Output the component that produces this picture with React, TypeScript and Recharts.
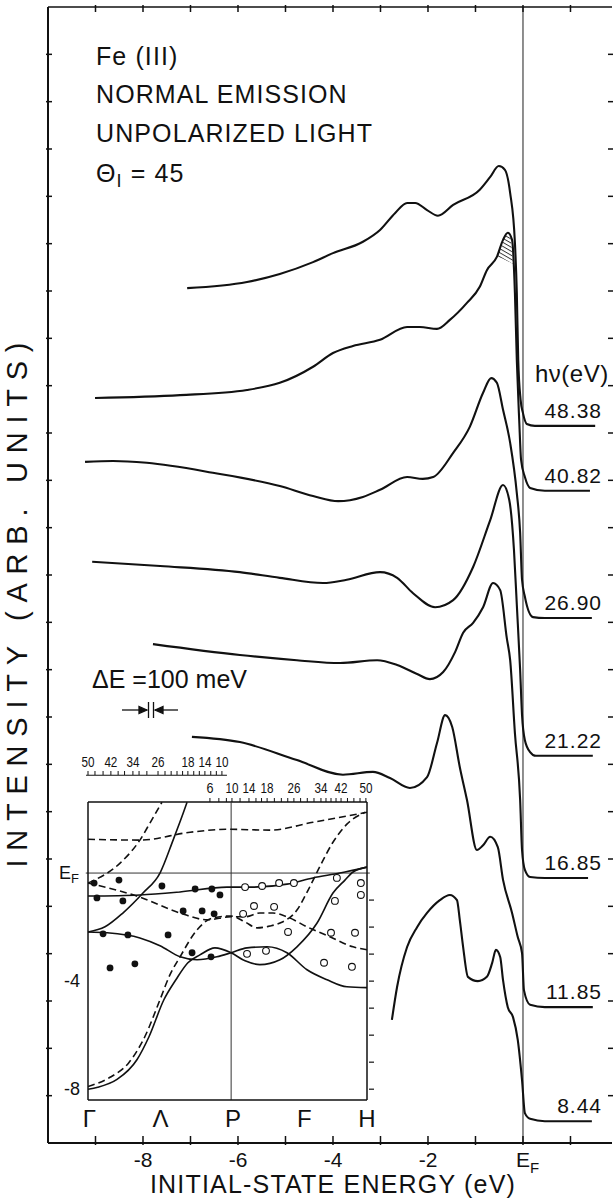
import React from "react";
import { ComposedChart, Line, Area, Scatter, XAxis, YAxis, ReferenceLine } from "recharts";

const W = 613;
const H = 1198;
const FONT = "'Liberation Sans', Arial, sans-serif";
const INK = "#111";

// photon energies, top curve to bottom curve
const photon = ["48.38", "40.82", "26.90", "21.22", "16.85", "11.85", "8.44"];

// spectra: [initial-state energy (eV), intensity incl. offset (in y-tick units)]
const s4838 = [[-7.07, 18.06], [-5.81, 18.19], [-5.12, 18.36], [-4.42, 18.61], [-4.0, 18.8], [-3.37, 19.04], [-3.01, 19.29], [-2.69, 19.65], [-2.44, 19.86], [-2.27, 19.86], [-2.02, 19.71], [-1.79, 19.59], [-1.47, 19.82], [-0.91, 20.14], [-0.69, 20.41], [-0.51, 20.64], [-0.38, 20.56], [-0.27, 20.07], [-0.17, 19.02], [-0.13, 17.96], [-0.1, 16.54], [-0.05, 15.7], [0.0, 15.42], [0.08, 15.19], [0.25, 15.15], [1.52, 15.15]];
const s4082 = [[-9.01, 15.74], [-7.22, 15.8], [-5.81, 15.91], [-5.12, 16.06], [-4.42, 16.4], [-4.0, 16.69], [-3.58, 16.84], [-3.01, 16.97], [-2.44, 17.24], [-2.17, 17.24], [-1.81, 17.2], [-1.54, 17.39], [-1.18, 17.75], [-0.91, 18.09], [-0.76, 18.44], [-0.55, 18.72], [-0.42, 19.08], [-0.32, 19.23], [-0.23, 19.08], [-0.17, 17.96], [-0.13, 16.54], [-0.08, 15.28], [-0.04, 14.43], [0.04, 14.07], [0.15, 13.84], [0.46, 13.78], [1.41, 13.78]];
const s2690 = [[-9.22, 14.39], [-8.63, 14.41], [-7.92, 14.37], [-6.53, 14.16], [-5.12, 13.88], [-4.42, 13.67], [-3.89, 13.56], [-3.37, 13.65], [-3.01, 13.8], [-2.44, 14.07], [-2.11, 14.03], [-1.89, 14.07], [-1.47, 14.58], [-1.12, 15.13], [-0.84, 15.85], [-0.67, 16.16], [-0.55, 16.06], [-0.42, 15.49], [-0.27, 14.79], [-0.13, 13.73], [-0.06, 12.89], [-0.02, 11.9], [0.04, 11.54], [0.21, 11.11], [0.46, 11.09], [1.45, 11.09]];
const s2122 = [[-9.07, 12.28], [-7.64, 12.19], [-5.96, 12.06], [-5.12, 11.94], [-4.21, 11.83], [-3.71, 11.9], [-3.01, 12.06], [-2.65, 11.94], [-2.32, 11.62], [-1.85, 11.32], [-1.47, 11.47], [-1.05, 12.17], [-0.69, 13.16], [-0.42, 13.9], [-0.29, 13.59], [-0.19, 12.53], [-0.13, 11.37], [-0.06, 9.99], [-0.02, 9.04], [0.04, 8.51], [0.15, 8.26], [0.27, 8.18], [1.47, 8.18]];
const s1685 = [[-7.79, 10.54], [-5.96, 10.31], [-4.76, 10.2], [-3.85, 10.14], [-3.07, 10.2], [-2.65, 10.1], [-2.23, 9.91], [-1.96, 9.8], [-1.68, 9.95], [-1.43, 10.37], [-1.26, 10.78], [-1.05, 10.99], [-0.84, 11.32], [-0.63, 11.83], [-0.48, 11.68], [-0.34, 10.66], [-0.27, 10.2], [-0.17, 8.66], [-0.06, 7.25], [-0.02, 6.19], [0.04, 5.77], [0.15, 5.62], [0.46, 5.6], [1.37, 5.6]];
const s1185 = [[-6.97, 8.58], [-5.96, 8.47], [-4.76, 8.09], [-3.79, 7.78], [-3.16, 7.84], [-2.8, 7.71], [-2.38, 7.5], [-2.02, 7.73], [-1.81, 8.45], [-1.64, 9.04], [-1.49, 8.79], [-1.33, 7.94], [-1.18, 7.25], [-0.97, 6.19], [-0.84, 6.29], [-0.69, 6.47], [-0.53, 6.25], [-0.42, 5.56], [-0.23, 4.86], [-0.11, 4.35], [-0.02, 4.01], [0.02, 3.23], [0.15, 2.92], [0.46, 2.87], [1.47, 2.87]];
const s844 = [[-2.76, 2.6], [-2.65, 3.3], [-2.44, 4.14], [-2.23, 4.56], [-2.02, 4.86], [-1.75, 5.13], [-1.54, 5.24], [-1.39, 5.13], [-1.33, 4.71], [-1.26, 4.14], [-1.16, 3.51], [-0.95, 3.42], [-0.76, 3.51], [-0.65, 3.8], [-0.57, 4.08], [-0.48, 3.93], [-0.42, 3.44], [-0.32, 2.87], [-0.21, 2.66], [-0.11, 2.18], [-0.02, 1.33], [0.04, 0.63], [0.15, 0.51], [0.46, 0.46], [1.45, 0.46]];
const spectra = [s4838, s4082, s2690, s2122, s1685, s1185, s844];

// hatched shoulder on the 40.82 eV curve
const hatchE = [-0.55, -0.45, -0.38, -0.32, -0.26, -0.21];
const hatchLo = [18.72, 18.69, 18.66, 18.63, 18.6, 18.57];
const hatchHi = [18.72, 18.98, 19.16, 19.23, 19.12, 18.6];

// main axes
const xTicks = [-9, -8, -7, -6, -5, -4, -3, -2, -1, 0, 1];
const xLabeled = [-8, -6, -4, -2];
const yTicks = [1, 2, 3, 4, 5, 6, 7, 8, 9, 10, 11, 12, 13, 14, 15, 16, 17, 18, 19, 20, 21, 22, 23];

// inset: band structure along Γ-Λ-P-F-H (k: 0..100), energy in eV
const kTicks = [0.5, 26, 52, 77.5, 100];
const kNames = ["Γ", "Λ", "P", "F", "H"];
const bandL1 = [[0, -0.85], [18.6, -0.81], [33, -0.7], [49.8, -0.52], [59.1, -0.52], [71.3, -0.41], [80.6, -0.18], [90.3, 0], [100, 0.22]];
const bandL2 = [[0, -2.18], [6.1, -1.99], [12.5, -1.48], [19.7, -0.74], [25.8, 0], [30.5, 1.22], [34.1, 2.21], [35.5, 2.62]];
const bandA = [[0, -2.18], [6.8, -2.21], [18.6, -2.4], [25.8, -2.69], [33, -3.1], [39.1, -3.21], [46.2, -3.1], [51.3, -2.95], [57, -2.77], [64.2, -2.73], [71.3, -2.95], [78.5, -3.58], [85.7, -3.95], [92.8, -4.21], [100, -4.24]];
const bandB = [[0, -8.0], [3.5, -7.93], [10.4, -7.64], [17.6, -6.9], [21.9, -6.05], [27.2, -4.69], [31.5, -3.95], [35.8, -3.32], [40.1, -3.03], [45.5, -2.77], [51.3, -2.95], [56.3, -3.25], [61.6, -3.39], [68.8, -3.21], [74.9, -2.73], [82.1, -1.85], [87.8, -0.74], [92.1, -0.26], [95, 0.04], [100, 0.22]];
const dashTop = [[0, 1.25], [18.6, 1.22], [36.6, 1.51], [49.8, 1.62], [65.2, 1.59], [80.6, 1.88], [100, 2.25]];
const dashSteep = [[0, -0.37], [11.5, 0.37], [18.6, 1.22], [22.2, 1.85], [26.5, 2.62]];
const dashMid = [[0, -0.37], [18.6, -0.89], [33, -1.48], [42.7, -1.73], [51.3, -1.62], [56.3, -1.62], [61.6, -1.48], [66.3, -1.48], [71.3, -1.62], [78.5, -1.99], [86.7, -2.36], [95, -2.73], [100, -2.84]];
const dashLow = [[0, -7.9], [7.9, -7.56], [14.7, -7.01], [20.4, -6.05], [25.8, -4.69], [29.4, -3.76], [33, -3.1], [39.1, -2.1], [44.8, -1.66], [51.3, -1.59], [56.3, -1.81], [60.6, -2.03], [65.2, -1.96], [68.8, -1.85], [74.9, -1.37], [78.9, -0.63], [83.2, 0.26], [87.8, 1.14], [92.8, 1.81], [99.3, 2.25]];
const solidBands = [bandL1, bandL2, bandA, bandB];
const dashedBands = [dashTop, dashSteep, dashMid, dashLow];
const filledDots = [[2.2, -0.37], [11.1, -0.26], [3.2, -0.92], [12.5, -1.03], [26.5, -0.48], [38.4, -0.59], [44.4, -0.59], [47.3, -0.81], [34.1, -1.4], [40.9, -1.4], [45.2, -1.51], [5.4, -2.25], [14.3, -2.29], [28.7, -2.29], [37.3, -2.95], [44.1, -3.1], [7.9, -3.51], [16.8, -3.36]];
const openDots = [[56.3, -0.52], [62.4, -0.48], [68.5, -0.37], [73.8, -0.37], [89.2, -0.18], [97.8, -0.37], [97.8, -0.81], [88.5, -1.03], [55.6, -1.51], [59.5, -1.22], [66.7, -1.25], [71.7, -2.18], [87.1, -2.21], [95.7, -2.21], [57, -2.99], [63.8, -2.88], [84.6, -3.32], [94.6, -3.47]];

// photon-energy scales above the inset
const s1Ticks = [0, 2.5, 5.4, 8.2, 10.8, 13.1, 16.1, 18.3, 21.1, 25.1, 27.6, 29.8, 31.9, 33.9, 35.8, 37.9, 39.9, 41.9, 44.0, 46.0, 48.0];
const s1Text = ["50", "", "", "42", "", "", "34", "", "", "26", "", "", "", "", "18", "", "", "14", "", "", "10"];
const s2Ticks = [43.7, 46.9, 49.6, 51.6, 54.5, 57.7, 60.2, 62.2, 64.2, 66.8, 69.3, 71.6, 73.8, 76.2, 78.6, 81.0, 83.5, 85.3, 87.1, 88.9, 90.7, 93.0, 95.3, 97.5, 99.6];
const s2Text = ["6", "", "", "10", "", "14", "", "", "18", "", "", "", "26", "", "", "", "34", "", "", "", "42", "", "", "", "50"];

const toXY = (s: number[][]) => s.map(([x, y]) => ({ x, y }));
const toKE = (s: number[][]) => s.map(([k, e]) => ({ k, e }));

const BottomTick = (p: any) => {
  const v = p.payload.value;
  return (
    <g>
      <line x1={p.x} x2={p.x} y1={p.y} y2={p.y - 9} stroke={INK} strokeWidth={1.5} />
      {v === 0 ? (
        <text x={p.x - 7} y={p.y + 22} fontSize={21} fill={INK} fontFamily={FONT}>
          E<tspan fontSize={15} dy={6}>F</tspan>
        </text>
      ) : xLabeled.includes(v) ? (
        <text x={p.x} y={p.y + 22} textAnchor="middle" fontSize={21} fill={INK} fontFamily={FONT}>{v}</text>
      ) : null}
    </g>
  );
};
const TopTick = (p: any) => <line x1={p.x} x2={p.x} y1={p.y} y2={p.y + 7} stroke={INK} strokeWidth={1.5} />;
const LeftTick = (p: any) => <line x1={p.x} x2={p.x + 6} y1={p.y} y2={p.y} stroke={INK} strokeWidth={1.5} />;
const RightTick = (p: any) => <line x1={p.x - 6} x2={p.x + 1} y1={p.y} y2={p.y} stroke={INK} strokeWidth={1.5} />;

const TailLabel = (p: any) => (
  <text x={602} y={p.cy - 8} textAnchor="end" fontSize={21} letterSpacing={1} fill={INK} fontFamily={FONT}>
    {p.payload?.lab ?? p.lab}
  </text>
);

const KTick = (p: any) => (
  <text x={p.x} y={p.y + 25} textAnchor="middle" fontSize={24} fill={INK} fontFamily={FONT}>
    {kNames[kTicks.indexOf(p.payload.value)]}
  </text>
);
const ETick = (p: any) =>
  p.payload.value === 0 ? (
    <text x={p.x - 27} y={p.y + 6} fontSize={18} fill={INK} fontFamily={FONT}>
      E<tspan fontSize={13} dy={4}>F</tspan>
    </text>
  ) : (
    <text x={p.x - 6} y={p.y + 6} textAnchor="end" fontSize={18} fill={INK} fontFamily={FONT}>{p.payload.value}</text>
  );
const ERTick = (p: any) => <line x1={p.x} x2={p.x + 5} y1={p.y} y2={p.y} stroke={INK} strokeWidth={1.2} />;

// narrow numerals for the photon-energy scales
const ScaleText = ({ x, y, t }: { x: number; y: number; t: string }) => (
  <text x={x} y={y} textAnchor="middle" fontSize={15} fill={INK} fontFamily={FONT}
    textLength={t.length > 1 ? 13 : 7} lengthAdjust="spacingAndGlyphs">{t}</text>
);
const S1Tick = (p: any) => {
  const t = s1Text[s1Ticks.indexOf(p.payload.value)];
  return (
    <g>
      <line x1={p.x} x2={p.x} y1={775} y2={771} stroke={INK} strokeWidth={1} />
      {t ? <ScaleText x={p.x} y={767} t={t} /> : null}
    </g>
  );
};
const S2Tick = (p: any) => {
  const t = s2Text[s2Ticks.indexOf(p.payload.value)];
  return (
    <g>
      <line x1={p.x} x2={p.x} y1={802} y2={798} stroke={INK} strokeWidth={1} />
      {t ? <ScaleText x={p.x} y={793} t={t} /> : null}
    </g>
  );
};

export default function App() {
  const hatchData = hatchE.map((x, i) => ({ x, r: [hatchLo[i], hatchHi[i]] }));
  const tails = spectra.map((s, i) => ({ x: s[s.length - 1][0], y: s[s.length - 1][1], lab: photon[i] }));
  const text = { fontFamily: FONT, fill: INK } as const;

  return (
    <div style={{ position: "absolute", left: 0, top: 0, width: W, height: H, overflow: "hidden", background: "#fff" }}>
      <svg width={0} height={0} style={{ position: "absolute" }}>
        <defs>
          <pattern id="hatch" width={3.5} height={3.5} patternUnits="userSpaceOnUse" patternTransform="rotate(30)">
            <line x1={0} y1={0.5} x2={3.5} y2={0.5} stroke={INK} strokeWidth={0.8} />
          </pattern>
        </defs>
      </svg>

      <div style={{ position: "absolute", left: 0, top: 0 }}>
        <ComposedChart width={W} height={H} margin={{ top: 6, right: 0, bottom: 54, left: 47 }}>
          <XAxis xAxisId="b" dataKey="x" type="number" domain={[-10, 1.874]} allowDataOverflow ticks={xTicks} interval={0}
            height={1} tickSize={0} tickLine={false} axisLine={{ stroke: INK, strokeWidth: 2 }} tick={BottomTick} />
          <XAxis xAxisId="t" orientation="top" dataKey="x" type="number" domain={[-10, 1.874]} allowDataOverflow ticks={xTicks} interval={0}
            height={1} tickSize={0} tickLine={false} axisLine={{ stroke: INK, strokeWidth: 1.5 }} tick={TopTick} />
          <YAxis yAxisId="l" type="number" domain={[0, 24]} allowDataOverflow ticks={yTicks} interval={0}
            width={1} tickSize={0} tickLine={false} axisLine={{ stroke: INK, strokeWidth: 2 }} tick={LeftTick} />
          <YAxis yAxisId="r" orientation="right" type="number" domain={[0, 24]} allowDataOverflow ticks={yTicks} interval={0}
            width={1} tickSize={0} tickLine={false} axisLine={false} tick={RightTick} />
          <ReferenceLine xAxisId="b" yAxisId="l" x={0} stroke="#333" strokeWidth={1.1} />
          <Area xAxisId="b" yAxisId="l" data={hatchData} dataKey="r" type="linear" stroke="none" fill="url(#hatch)" fillOpacity={1}
            isAnimationActive={false} activeDot={false} />
          {spectra.map((s, i) => (
            <Line key={photon[i]} xAxisId="b" yAxisId="l" data={toXY(s)} dataKey="y" type="monotone" stroke={INK}
              strokeWidth={2.1} dot={false} activeDot={false} isAnimationActive={false} />
          ))}
          <Scatter xAxisId="b" yAxisId="l" data={tails} dataKey="y" shape={TailLabel} isAnimationActive={false} />
        </ComposedChart>
      </div>

      <div style={{ position: "absolute", left: 0, top: 0 }}>
        <ComposedChart width={W} height={H} margin={{ top: 800, right: 245, bottom: 97, left: 87 }}>
          <XAxis xAxisId="k" dataKey="k" type="number" domain={[0, 100]} allowDataOverflow ticks={kTicks} interval={0}
            height={1} tickSize={0} tickLine={false} axisLine={{ stroke: INK, strokeWidth: 1.5 }} tick={KTick} />
          <XAxis xAxisId="s2" orientation="top" dataKey="k" type="number" domain={[0, 100]} allowDataOverflow ticks={s2Ticks} interval={0}
            height={1} tickSize={0} tickLine={false} axisLine={false} tick={S2Tick} />
          <XAxis xAxisId="s1" orientation="top" dataKey="k" type="number" domain={[0, 100]} allowDataOverflow ticks={s1Ticks} interval={0}
            height={1} tickSize={0} tickLine={false} axisLine={false} tick={S1Tick} />
          <YAxis yAxisId="e" dataKey="e" type="number" domain={[-8.4, 2.63]} allowDataOverflow ticks={[0, -4, -8]} interval={0}
            width={1} tickSize={0} tickLine={false} axisLine={{ stroke: INK, strokeWidth: 1.5 }} tick={ETick} />
          <YAxis yAxisId="er" orientation="right" type="number" domain={[-8.4, 2.63]} allowDataOverflow ticks={[-1, -2, -3, -4, -5, -6, -7, -8]} interval={0}
            width={1} tickSize={0} tickLine={false} axisLine={{ stroke: INK, strokeWidth: 1.5 }} tick={ERTick} />
          <ReferenceLine xAxisId="k" yAxisId="e" y={2.63} ifOverflow="visible" stroke={INK} strokeWidth={1.5} />
          <ReferenceLine xAxisId="k" yAxisId="e" x={51.3} stroke="#333" strokeWidth={1} />
          <ReferenceLine xAxisId="k" yAxisId="e" segment={[{ x: -0.8, y: 0 }, { x: 101, y: 0 }]} ifOverflow="visible" stroke="#333" strokeWidth={1} />
          <ReferenceLine xAxisId="k" yAxisId="e" segment={[{ x: -0.7, y: 3.62 }, { x: 49.8, y: 3.62 }]} ifOverflow="visible" stroke={INK} strokeWidth={1.2} />
          {solidBands.map((b, i) => (
            <Line key={"s" + i} xAxisId="k" yAxisId="e" data={toKE(b)} dataKey="e" type="monotone" stroke={INK}
              strokeWidth={1.6} dot={false} activeDot={false} isAnimationActive={false} />
          ))}
          {dashedBands.map((b, i) => (
            <Line key={"d" + i} xAxisId="k" yAxisId="e" data={toKE(b)} dataKey="e" type="monotone" stroke={INK}
              strokeWidth={1.6} strokeDasharray="7 4" dot={false} activeDot={false} isAnimationActive={false} />
          ))}
          <Scatter xAxisId="k" yAxisId="e" data={toKE(filledDots)} dataKey="e" isAnimationActive={false}
            shape={(p: any) => <circle cx={p.cx} cy={p.cy} r={3.4} fill={INK} />} />
          <Scatter xAxisId="k" yAxisId="e" data={toKE(openDots)} dataKey="e" isAnimationActive={false}
            shape={(p: any) => <circle cx={p.cx} cy={p.cy} r={3.4} fill="#fff" stroke={INK} strokeWidth={1.1} />} />
        </ComposedChart>
      </div>

      <svg width={W} height={H} style={{ position: "absolute", left: 0, top: 0, pointerEvents: "none" }}>
        <g {...text} fontSize={25} letterSpacing={1.1}>
          <text x={96} y={65}>Fe (III)</text>
          <text x={96} y={103}>NORMAL EMISSION</text>
          <text x={96} y={142}>UNPOLARIZED LIGHT</text>
          <text x={96} y={182}>Θ<tspan fontSize={18} dy={5}>I</tspan><tspan dy={-5}> = 45</tspan></text>
          <text x={92} y={688} letterSpacing={0}>ΔE =100 meV</text>
          <text x={535} y={382} fontSize={24} letterSpacing={0.5}>hν(eV)</text>
          <text x={333} y={1193} textAnchor="middle" letterSpacing={1.2}>INITIAL-STATE ENERGY (eV)</text>
          <text transform="translate(27,605) rotate(-90)" textAnchor="middle" fontSize={29} letterSpacing={0}
            textLength={525} lengthAdjust="spacing">INTENSITY (ARB. UNITS)</text>
        </g>
        <g stroke={INK} strokeWidth={1.3} fill={INK}>
          <line x1={122} y1={710} x2={147} y2={710} />
          <polygon points="147,710 139,706.5 139,713.5" />
          <line x1={148.5} y1={702} x2={148.5} y2={718} />
          <line x1={153.5} y1={702} x2={153.5} y2={718} />
          <line x1={155} y1={710} x2={178} y2={710} />
          <polygon points="155,710 163,706.5 163,713.5" />
        </g>
      </svg>
    </div>
  );
}
